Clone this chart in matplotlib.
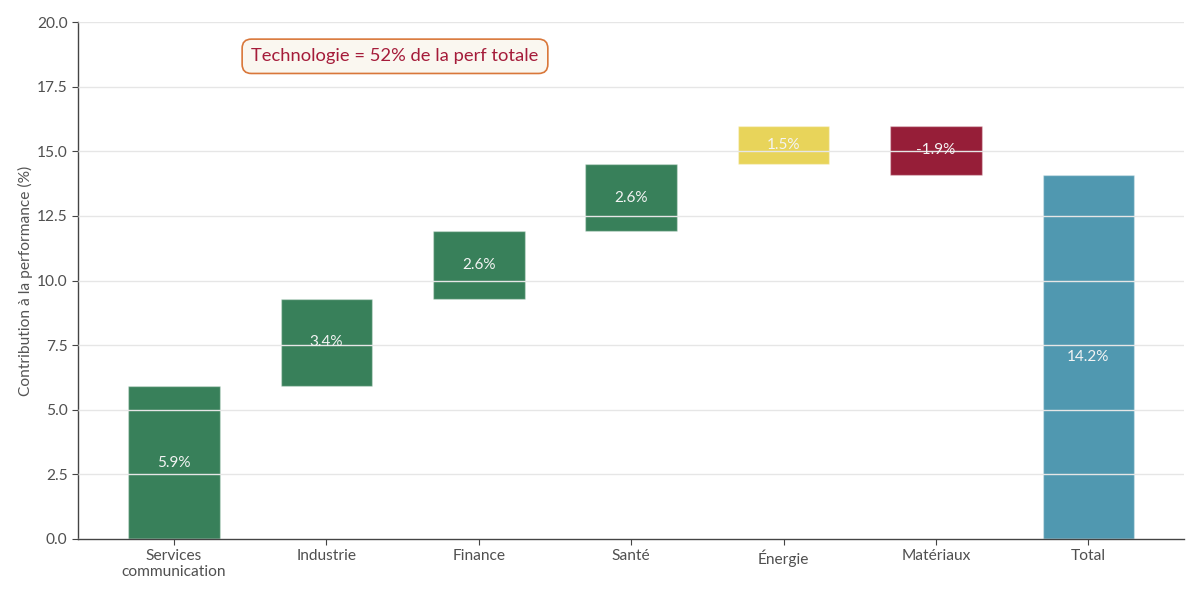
import matplotlib
matplotlib.use("Agg")
import matplotlib.pyplot as plt
import numpy as np

categories = ["Services\ncommunication", "Industrie", "Finance", "Santé", "Énergie", "Matériaux", "Total"]
contributions = [5.9, 3.4, 2.6, 2.6, 1.5, -1.9]
total_value = 14.1
bar_labels = ["5.9%", "3.4%", "2.6%", "2.6%", "1.5%", "-1.9%", "14.2%"]
bar_colors = ["#38805a", "#38805a", "#38805a", "#38805a", "#e8d45a", "#961e38", "#5098b0"]
annotation_text = "Technologie = 52% de la perf totale"

plt.rcParams['font.family'] = ['Lato', 'DejaVu Sans']

fig, ax = plt.subplots(figsize=(12, 6), dpi=100)
fig.subplots_adjust(left=0.065, right=0.987, top=0.963, bottom=0.102)

bottoms = []
heights = []
cum = 0.0
for c in contributions:
    if c >= 0:
        bottoms.append(cum)
        heights.append(c)
    else:
        bottoms.append(cum + c)
        heights.append(-c)
    cum += c
bottoms.append(0.0)
heights.append(total_value)

x = np.arange(len(categories))
ax.bar(x, heights, bottom=bottoms, width=0.6, color=bar_colors,
       edgecolor=(1, 1, 1, 0.35), linewidth=1.0, zorder=1)

for xi, b, h, lab in zip(x, bottoms, heights, bar_labels):
    ax.text(xi, b + h / 2, lab, ha="center", va="center", color="#f4f4f4",
            fontsize=11, zorder=4)

ax.set_axisbelow(False)
ax.yaxis.grid(True, color="#e6e6e6", linewidth=1.0, zorder=3)
ax.xaxis.grid(False)
ax.set_ylim(0, 20)
ax.set_yticks(np.arange(0, 20.01, 2.5))
ax.set_yticklabels([f"{v:.1f}" for v in np.arange(0, 20.01, 2.5)])
ax.set_xticks(x)
ax.set_xticklabels(categories, linespacing=1.15)
ax.set_xlim(-0.63, 6.63)
ax.tick_params(axis="both", colors="#444444", labelsize=11.2, length=4)
ax.tick_params(axis="both", labelcolor="#505050")
for s in ["top", "right"]:
    ax.spines[s].set_visible(False)
for s in ["left", "bottom"]:
    ax.spines[s].set_color("#444444")
    ax.spines[s].set_linewidth(1.0)

ax.set_ylabel("Contribution à la performance (%)", fontsize=11.2, color="#555555", labelpad=3)

ax.text(1.45, 18.68, annotation_text, ha="center", va="center", fontsize=13.2,
        color="#a51c3a", zorder=5,
        bbox=dict(boxstyle="round,pad=0.5", facecolor="#faf7f0",
                  edgecolor="#d9773a", linewidth=1.2))

fig.savefig("out.png", dpi=100)
